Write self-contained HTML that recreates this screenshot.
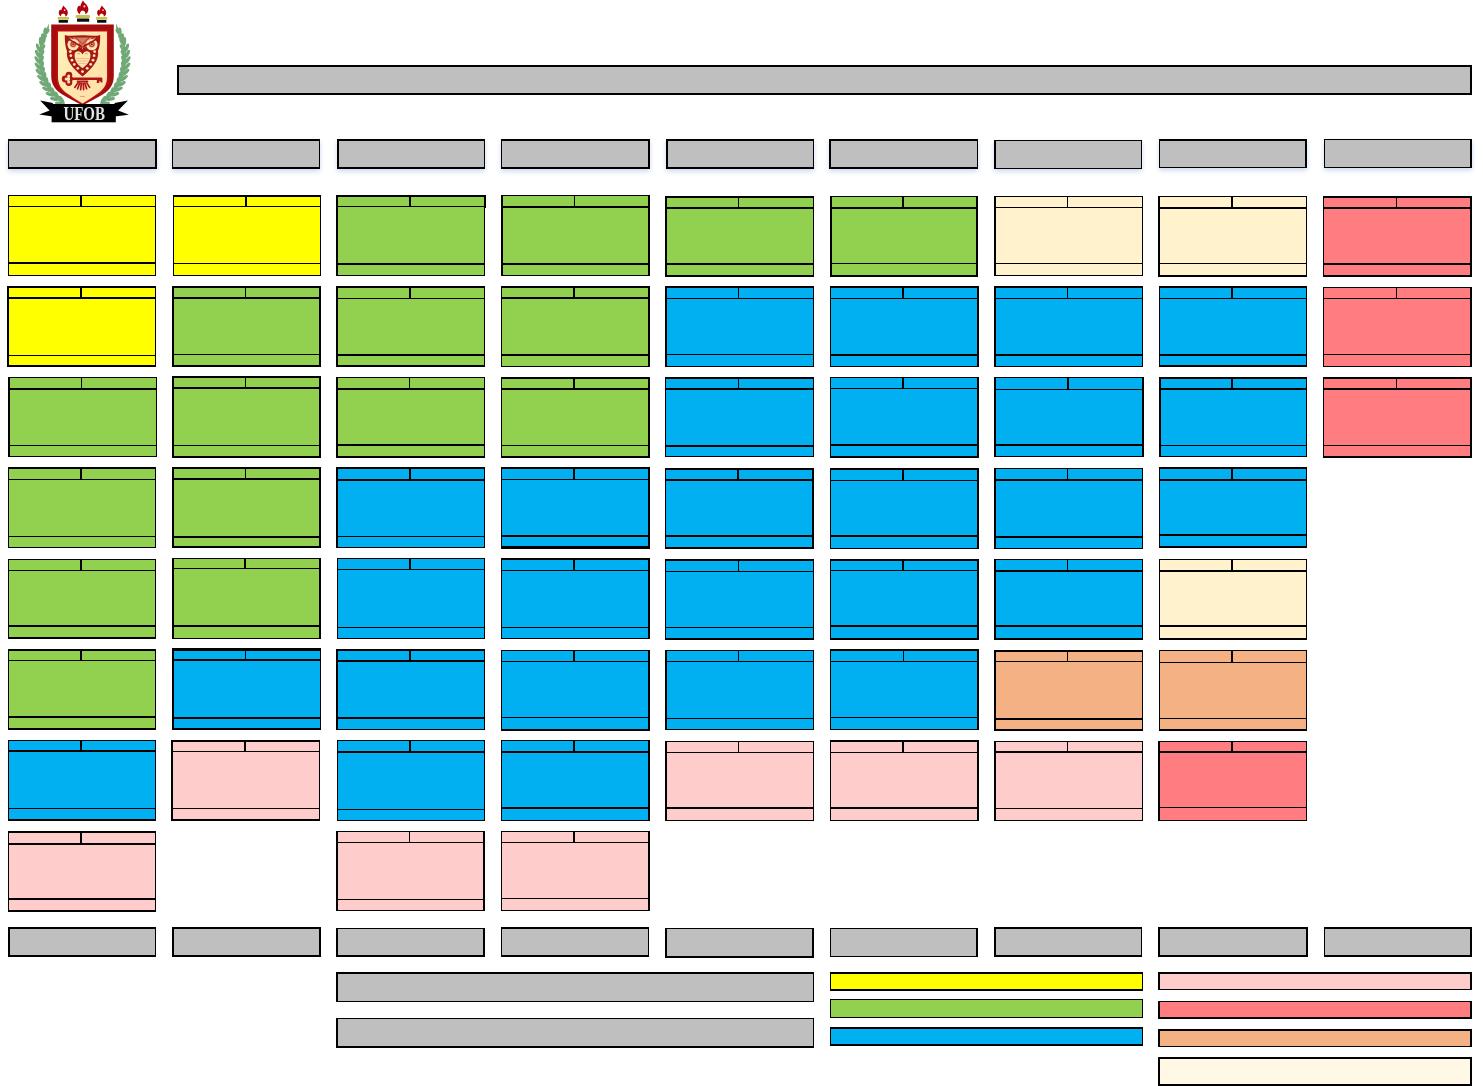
<!DOCTYPE html>
<html lang="pt-BR">
<head>
<meta charset="utf-8">
<title>UFOB - Fluxograma</title>
<style>
html,body{margin:0;padding:0;background:#fff;}
body{width:1483px;height:1086px;overflow:hidden;position:relative;font-family:"Liberation Serif",serif;}
svg{position:absolute;left:0;top:0;display:block;}
</style>
</head>
<body>
<svg width="1483" height="1086" viewBox="0 0 1483 1086">
<defs>
<linearGradient id="cg" x1="0" y1="0" x2="1" y2="1"><stop offset="0" stop-color="#fff3bc"/><stop offset="0.5" stop-color="#ffe7ae"/><stop offset="1" stop-color="#ffdda6"/></linearGradient>
<filter id="lb" x="-5%" y="-5%" width="110%" height="110%"><feGaussianBlur stdDeviation="0.55"/></filter>
<filter id="sh" x="-10%" y="-40%" width="120%" height="200%"><feGaussianBlur stdDeviation="2.6"/></filter>
</defs>
<g id="shadows" filter="url(#sh)" opacity="0.4" transform="translate(0 2.5)" fill="#7fa6d9">
<rect x="8" y="139" width="149" height="30" />
<rect x="172" y="139" width="148" height="30" />
<rect x="337" y="139" width="148" height="30" />
<rect x="501" y="139" width="149" height="30" />
<rect x="666" y="139" width="148" height="30" />
<rect x="829" y="139" width="149" height="30" />
<rect x="994" y="140" width="148" height="29" />
<rect x="1159" y="139" width="148" height="29" />
<rect x="1324" y="139" width="148" height="29" />
</g>
<g id="shapes" shape-rendering="crispEdges">
<g class="bar title"><rect x="177" y="65" width="1295" height="30" fill="#000"/><rect x="179" y="67" width="1291" height="26" fill="#bfbfbf"/></g>
<g class="bar h0"><rect x="8" y="139" width="149" height="30" fill="#000"/><rect x="9" y="141" width="146" height="26" fill="#bfbfbf"/></g>
<g class="bar h1"><rect x="172" y="139" width="148" height="30" fill="#000"/><rect x="173" y="141" width="146" height="26" fill="#bfbfbf"/></g>
<g class="bar h2"><rect x="337" y="139" width="148" height="30" fill="#000"/><rect x="339" y="141" width="145" height="26" fill="#bfbfbf"/></g>
<g class="bar h3"><rect x="501" y="139" width="149" height="30" fill="#000"/><rect x="502" y="141" width="146" height="26" fill="#bfbfbf"/></g>
<g class="bar h4"><rect x="666" y="139" width="148" height="30" fill="#000"/><rect x="668" y="141" width="145" height="26" fill="#bfbfbf"/></g>
<g class="bar h5"><rect x="829" y="139" width="149" height="30" fill="#000"/><rect x="831" y="141" width="146" height="26" fill="#bfbfbf"/></g>
<g class="bar h6"><rect x="994" y="140" width="148" height="29" fill="#000"/><rect x="996" y="141" width="145" height="27" fill="#bfbfbf"/></g>
<g class="bar h7"><rect x="1159" y="139" width="148" height="29" fill="#000"/><rect x="1160" y="141" width="145" height="26" fill="#bfbfbf"/></g>
<g class="bar h8"><rect x="1324" y="139" width="148" height="29" fill="#000"/><rect x="1325" y="140" width="145" height="27" fill="#bfbfbf"/></g>
<g class="bar f0"><rect x="8" y="927" width="148" height="30" fill="#000"/><rect x="10" y="929" width="145" height="26" fill="#bfbfbf"/></g>
<g class="bar f1"><rect x="172" y="927" width="149" height="30" fill="#000"/><rect x="174" y="929" width="145" height="26" fill="#bfbfbf"/></g>
<g class="bar f2"><rect x="336" y="928" width="149" height="29" fill="#000"/><rect x="338" y="929" width="145" height="26" fill="#bfbfbf"/></g>
<g class="bar f3"><rect x="501" y="927" width="148" height="30" fill="#000"/><rect x="502" y="929" width="146" height="26" fill="#bfbfbf"/></g>
<g class="bar f4"><rect x="665" y="928" width="149" height="30" fill="#000"/><rect x="667" y="929" width="145" height="27" fill="#bfbfbf"/></g>
<g class="bar f5"><rect x="830" y="928" width="148" height="29" fill="#000"/><rect x="831" y="929" width="145" height="27" fill="#bfbfbf"/></g>
<g class="bar f6"><rect x="994" y="927" width="148" height="30" fill="#000"/><rect x="996" y="929" width="145" height="26" fill="#bfbfbf"/></g>
<g class="bar f7"><rect x="1158" y="927" width="150" height="30" fill="#000"/><rect x="1160" y="929" width="146" height="26" fill="#bfbfbf"/></g>
<g class="bar f8"><rect x="1324" y="927" width="148" height="30" fill="#000"/><rect x="1325" y="929" width="145" height="26" fill="#bfbfbf"/></g>
<g class="bar w1"><rect x="336" y="972" width="478" height="30" fill="#000"/><rect x="338" y="974" width="475" height="27" fill="#bfbfbf"/></g>
<g class="bar w2"><rect x="336" y="1018" width="478" height="30" fill="#000"/><rect x="338" y="1019" width="475" height="27" fill="#bfbfbf"/></g>
<g class="bar ly"><rect x="830" y="972" width="313" height="19" fill="#000"/><rect x="831" y="974" width="311" height="15" fill="#ffff00"/></g>
<g class="bar lg"><rect x="830" y="999" width="313" height="19" fill="#000"/><rect x="831" y="1000" width="311" height="17" fill="#92d050"/></g>
<g class="bar lb"><rect x="830" y="1027" width="313" height="19" fill="#000"/><rect x="831" y="1029" width="311" height="15" fill="#00b0f0"/></g>
<g class="bar lp"><rect x="1158" y="972" width="314" height="18" fill="#000"/><rect x="1160" y="974" width="310" height="15" fill="#ffcccc"/></g>
<g class="bar lr"><rect x="1158" y="1001" width="314" height="18" fill="#000"/><rect x="1160" y="1002" width="310" height="15" fill="#ff7c80"/></g>
<g class="bar lo"><rect x="1158" y="1029" width="314" height="18" fill="#000"/><rect x="1160" y="1031" width="310" height="15" fill="#f4b183"/></g>
<g class="bar lc"><rect x="1158" y="1057" width="314" height="29" fill="#000"/><rect x="1160" y="1059" width="310" height="25" fill="#fff8e5"/></g>
<g class="box r0 c0"><rect x="8" y="195" width="148" height="81" fill="#000"/><rect x="9" y="196" width="146" height="79" fill="#ffff00"/><rect x="8" y="206" width="148" height="1" fill="#000"/><rect x="8" y="262" width="148" height="2" fill="#000"/><rect x="80" y="195" width="2" height="11" fill="#000"/></g>
<g class="box r0 c1"><rect x="173" y="195" width="148" height="81" fill="#000"/><rect x="174" y="197" width="146" height="78" fill="#ffff00"/><rect x="173" y="206" width="148" height="1" fill="#000"/><rect x="173" y="263" width="148" height="1" fill="#000"/><rect x="245" y="195" width="2" height="11" fill="#000"/></g>
<g class="box r0 c2"><rect x="336" y="195" width="149" height="81" fill="#000"/><rect x="338" y="197" width="146" height="78" fill="#92d050"/><rect x="336" y="206" width="149" height="1" fill="#000"/><rect x="336" y="263" width="149" height="2" fill="#000"/><rect x="409" y="195" width="2" height="11" fill="#000"/></g>
<g class="box r0 c3"><rect x="501" y="195" width="149" height="81" fill="#000"/><rect x="503" y="196" width="145" height="79" fill="#92d050"/><rect x="501" y="206" width="149" height="2" fill="#000"/><rect x="501" y="263" width="149" height="2" fill="#000"/><rect x="574" y="195" width="1" height="11" fill="#000"/></g>
<g class="box r0 c4"><rect x="665" y="196" width="149" height="81" fill="#000"/><rect x="667" y="198" width="146" height="77" fill="#92d050"/><rect x="665" y="207" width="149" height="2" fill="#000"/><rect x="665" y="263" width="149" height="2" fill="#000"/><rect x="738" y="196" width="1" height="11" fill="#000"/></g>
<g class="box r0 c5"><rect x="830" y="196" width="148" height="81" fill="#000"/><rect x="832" y="197" width="144" height="78" fill="#92d050"/><rect x="830" y="207" width="148" height="2" fill="#000"/><rect x="830" y="263" width="148" height="1" fill="#000"/><rect x="902" y="196" width="2" height="11" fill="#000"/></g>
<g class="box r0 c6"><rect x="994" y="196" width="149" height="80" fill="#000"/><rect x="996" y="197" width="146" height="78" fill="#fff2cc"/><rect x="994" y="207" width="149" height="1" fill="#000"/><rect x="994" y="263" width="149" height="1" fill="#000"/><rect x="1067" y="196" width="1" height="11" fill="#000"/></g>
<g class="box r0 c7"><rect x="1158" y="196" width="149" height="81" fill="#000"/><rect x="1160" y="197" width="146" height="78" fill="#fff2cc"/><rect x="1158" y="207" width="149" height="2" fill="#000"/><rect x="1158" y="263" width="149" height="1" fill="#000"/><rect x="1231" y="196" width="2" height="11" fill="#000"/></g>
<g class="box r0 c8"><rect x="1323" y="196" width="149" height="81" fill="#000"/><rect x="1324" y="198" width="146" height="77" fill="#ff7c80"/><rect x="1323" y="207" width="149" height="2" fill="#000"/><rect x="1323" y="263" width="149" height="2" fill="#000"/><rect x="1396" y="196" width="1" height="11" fill="#000"/></g>
<g class="box r1 c0"><rect x="7" y="286" width="149" height="81" fill="#000"/><rect x="9" y="288" width="146" height="77" fill="#ffff00"/><rect x="7" y="297" width="149" height="2" fill="#000"/><rect x="7" y="355" width="149" height="1" fill="#000"/><rect x="80" y="286" width="2" height="11" fill="#000"/></g>
<g class="box r1 c1"><rect x="172" y="286" width="149" height="81" fill="#000"/><rect x="174" y="288" width="145" height="77" fill="#92d050"/><rect x="172" y="297" width="149" height="2" fill="#000"/><rect x="172" y="354" width="149" height="1" fill="#000"/><rect x="245" y="286" width="1" height="11" fill="#000"/></g>
<g class="box r1 c2"><rect x="336" y="286" width="149" height="81" fill="#000"/><rect x="338" y="288" width="146" height="77" fill="#92d050"/><rect x="336" y="298" width="149" height="1" fill="#000"/><rect x="336" y="354" width="149" height="2" fill="#000"/><rect x="409" y="286" width="2" height="12" fill="#000"/></g>
<g class="box r1 c3"><rect x="501" y="286" width="149" height="81" fill="#000"/><rect x="502" y="288" width="146" height="78" fill="#92d050"/><rect x="501" y="297" width="149" height="2" fill="#000"/><rect x="501" y="354" width="149" height="2" fill="#000"/><rect x="573" y="286" width="2" height="11" fill="#000"/></g>
<g class="box r1 c4"><rect x="665" y="286" width="149" height="81" fill="#000"/><rect x="667" y="288" width="146" height="78" fill="#00b0f0"/><rect x="665" y="298" width="149" height="1" fill="#000"/><rect x="665" y="354" width="149" height="1" fill="#000"/><rect x="738" y="286" width="1" height="12" fill="#000"/></g>
<g class="box r1 c5"><rect x="830" y="286" width="149" height="81" fill="#000"/><rect x="831" y="288" width="146" height="78" fill="#00b0f0"/><rect x="830" y="298" width="149" height="1" fill="#000"/><rect x="830" y="354" width="149" height="2" fill="#000"/><rect x="902" y="286" width="2" height="12" fill="#000"/></g>
<g class="box r1 c6"><rect x="994" y="286" width="149" height="81" fill="#000"/><rect x="996" y="288" width="146" height="78" fill="#00b0f0"/><rect x="994" y="298" width="149" height="1" fill="#000"/><rect x="994" y="354" width="149" height="2" fill="#000"/><rect x="1067" y="286" width="1" height="12" fill="#000"/></g>
<g class="box r1 c7"><rect x="1159" y="286" width="148" height="81" fill="#000"/><rect x="1160" y="288" width="146" height="77" fill="#00b0f0"/><rect x="1159" y="298" width="148" height="1" fill="#000"/><rect x="1159" y="354" width="148" height="2" fill="#000"/><rect x="1231" y="286" width="2" height="12" fill="#000"/></g>
<g class="box r1 c8"><rect x="1323" y="287" width="149" height="80" fill="#000"/><rect x="1324" y="288" width="146" height="78" fill="#ff7c80"/><rect x="1323" y="298" width="149" height="1" fill="#000"/><rect x="1323" y="354" width="149" height="1" fill="#000"/><rect x="1396" y="287" width="1" height="11" fill="#000"/></g>
<g class="box r2 c0"><rect x="8" y="377" width="149" height="80" fill="#000"/><rect x="10" y="378" width="146" height="78" fill="#92d050"/><rect x="8" y="388" width="149" height="2" fill="#000"/><rect x="8" y="445" width="149" height="1" fill="#000"/><rect x="81" y="377" width="1" height="11" fill="#000"/></g>
<g class="box r2 c1"><rect x="172" y="376" width="149" height="82" fill="#000"/><rect x="174" y="378" width="145" height="78" fill="#92d050"/><rect x="172" y="387" width="149" height="2" fill="#000"/><rect x="172" y="445" width="149" height="1" fill="#000"/><rect x="245" y="376" width="1" height="11" fill="#000"/></g>
<g class="box r2 c2"><rect x="336" y="377" width="149" height="81" fill="#000"/><rect x="338" y="378" width="146" height="78" fill="#92d050"/><rect x="336" y="388" width="149" height="2" fill="#000"/><rect x="336" y="444" width="149" height="2" fill="#000"/><rect x="409" y="377" width="1" height="11" fill="#000"/></g>
<g class="box r2 c3"><rect x="501" y="377" width="149" height="81" fill="#000"/><rect x="502" y="379" width="146" height="77" fill="#92d050"/><rect x="501" y="388" width="149" height="2" fill="#000"/><rect x="501" y="445" width="149" height="1" fill="#000"/><rect x="573" y="377" width="2" height="11" fill="#000"/></g>
<g class="box r2 c4"><rect x="665" y="377" width="149" height="80" fill="#000"/><rect x="666" y="379" width="147" height="77" fill="#00b0f0"/><rect x="665" y="388" width="149" height="2" fill="#000"/><rect x="665" y="445" width="149" height="2" fill="#000"/><rect x="738" y="377" width="1" height="11" fill="#000"/></g>
<g class="box r2 c5"><rect x="830" y="377" width="149" height="81" fill="#000"/><rect x="831" y="378" width="146" height="78" fill="#00b0f0"/><rect x="830" y="388" width="149" height="1" fill="#000"/><rect x="830" y="444" width="149" height="2" fill="#000"/><rect x="902" y="377" width="2" height="11" fill="#000"/></g>
<g class="box r2 c6"><rect x="994" y="377" width="150" height="80" fill="#000"/><rect x="996" y="378" width="146" height="78" fill="#00b0f0"/><rect x="994" y="389" width="150" height="1" fill="#000"/><rect x="994" y="444" width="150" height="2" fill="#000"/><rect x="1067" y="377" width="2" height="12" fill="#000"/></g>
<g class="box r2 c7"><rect x="1159" y="377" width="148" height="80" fill="#000"/><rect x="1161" y="379" width="145" height="77" fill="#00b0f0"/><rect x="1159" y="388" width="148" height="2" fill="#000"/><rect x="1159" y="445" width="148" height="1" fill="#000"/><rect x="1231" y="377" width="2" height="11" fill="#000"/></g>
<g class="box r2 c8"><rect x="1323" y="377" width="149" height="81" fill="#000"/><rect x="1324" y="379" width="146" height="77" fill="#ff7c80"/><rect x="1323" y="388" width="149" height="2" fill="#000"/><rect x="1323" y="445" width="149" height="1" fill="#000"/><rect x="1396" y="377" width="1" height="11" fill="#000"/></g>
<g class="box r3 c0"><rect x="8" y="467" width="148" height="81" fill="#000"/><rect x="9" y="469" width="146" height="78" fill="#92d050"/><rect x="8" y="479" width="148" height="1" fill="#000"/><rect x="8" y="536" width="148" height="1" fill="#000"/><rect x="80" y="467" width="2" height="12" fill="#000"/></g>
<g class="box r3 c1"><rect x="172" y="467" width="149" height="81" fill="#000"/><rect x="174" y="469" width="145" height="77" fill="#92d050"/><rect x="172" y="478" width="149" height="2" fill="#000"/><rect x="172" y="536" width="149" height="2" fill="#000"/><rect x="245" y="467" width="1" height="11" fill="#000"/></g>
<g class="box r3 c2"><rect x="336" y="467" width="149" height="81" fill="#000"/><rect x="338" y="469" width="146" height="78" fill="#00b0f0"/><rect x="336" y="479" width="149" height="2" fill="#000"/><rect x="336" y="536" width="149" height="1" fill="#000"/><rect x="409" y="467" width="2" height="12" fill="#000"/></g>
<g class="box r3 c3"><rect x="501" y="467" width="149" height="82" fill="#000"/><rect x="502" y="469" width="146" height="77" fill="#00b0f0"/><rect x="501" y="479" width="149" height="1" fill="#000"/><rect x="501" y="535" width="149" height="2" fill="#000"/><rect x="573" y="467" width="2" height="12" fill="#000"/></g>
<g class="box r3 c4"><rect x="665" y="468" width="149" height="81" fill="#000"/><rect x="666" y="470" width="146" height="77" fill="#00b0f0"/><rect x="665" y="479" width="149" height="2" fill="#000"/><rect x="665" y="535" width="149" height="2" fill="#000"/><rect x="737" y="468" width="2" height="11" fill="#000"/></g>
<g class="box r3 c5"><rect x="830" y="468" width="149" height="81" fill="#000"/><rect x="831" y="470" width="146" height="78" fill="#00b0f0"/><rect x="830" y="480" width="149" height="1" fill="#000"/><rect x="830" y="535" width="149" height="2" fill="#000"/><rect x="902" y="468" width="2" height="12" fill="#000"/></g>
<g class="box r3 c6"><rect x="994" y="468" width="149" height="81" fill="#000"/><rect x="996" y="469" width="146" height="79" fill="#00b0f0"/><rect x="994" y="479" width="149" height="2" fill="#000"/><rect x="994" y="536" width="149" height="2" fill="#000"/><rect x="1067" y="468" width="1" height="11" fill="#000"/></g>
<g class="box r3 c7"><rect x="1159" y="467" width="148" height="81" fill="#000"/><rect x="1160" y="469" width="146" height="77" fill="#00b0f0"/><rect x="1159" y="479" width="148" height="2" fill="#000"/><rect x="1159" y="534" width="148" height="2" fill="#000"/><rect x="1231" y="467" width="2" height="12" fill="#000"/></g>
<g class="box r4 c0"><rect x="8" y="559" width="148" height="80" fill="#000"/><rect x="9" y="560" width="146" height="77" fill="#92d050"/><rect x="8" y="570" width="148" height="1" fill="#000"/><rect x="8" y="625" width="148" height="2" fill="#000"/><rect x="80" y="559" width="2" height="11" fill="#000"/></g>
<g class="box r4 c1"><rect x="172" y="558" width="149" height="81" fill="#000"/><rect x="174" y="559" width="145" height="79" fill="#92d050"/><rect x="172" y="568" width="149" height="1" fill="#000"/><rect x="172" y="625" width="149" height="2" fill="#000"/><rect x="244" y="558" width="2" height="10" fill="#000"/></g>
<g class="box r4 c2"><rect x="337" y="558" width="148" height="81" fill="#000"/><rect x="338" y="559" width="146" height="79" fill="#00b0f0"/><rect x="337" y="569" width="148" height="1" fill="#000"/><rect x="337" y="627" width="148" height="1" fill="#000"/><rect x="409" y="558" width="2" height="11" fill="#000"/></g>
<g class="box r4 c3"><rect x="501" y="558" width="149" height="81" fill="#000"/><rect x="502" y="560" width="146" height="78" fill="#00b0f0"/><rect x="501" y="570" width="149" height="1" fill="#000"/><rect x="501" y="627" width="149" height="1" fill="#000"/><rect x="573" y="558" width="2" height="12" fill="#000"/></g>
<g class="box r4 c4"><rect x="665" y="559" width="149" height="81" fill="#000"/><rect x="666" y="561" width="147" height="77" fill="#00b0f0"/><rect x="665" y="571" width="149" height="1" fill="#000"/><rect x="665" y="627" width="149" height="1" fill="#000"/><rect x="738" y="559" width="1" height="12" fill="#000"/></g>
<g class="box r4 c5"><rect x="830" y="559" width="149" height="81" fill="#000"/><rect x="831" y="561" width="146" height="77" fill="#00b0f0"/><rect x="830" y="570" width="149" height="1" fill="#000"/><rect x="830" y="625" width="149" height="2" fill="#000"/><rect x="902" y="559" width="2" height="11" fill="#000"/></g>
<g class="box r4 c6"><rect x="994" y="559" width="149" height="81" fill="#000"/><rect x="996" y="560" width="146" height="78" fill="#00b0f0"/><rect x="994" y="570" width="149" height="2" fill="#000"/><rect x="994" y="625" width="149" height="2" fill="#000"/><rect x="1067" y="559" width="1" height="11" fill="#000"/></g>
<g class="box r4 c7"><rect x="1159" y="559" width="148" height="81" fill="#000"/><rect x="1160" y="560" width="146" height="78" fill="#fff2cc"/><rect x="1159" y="570" width="148" height="2" fill="#000"/><rect x="1159" y="625" width="148" height="2" fill="#000"/><rect x="1231" y="559" width="2" height="11" fill="#000"/></g>
<g class="box r5 c0"><rect x="8" y="649" width="148" height="81" fill="#000"/><rect x="9" y="651" width="146" height="77" fill="#92d050"/><rect x="8" y="660" width="148" height="1" fill="#000"/><rect x="8" y="716" width="148" height="2" fill="#000"/><rect x="80" y="649" width="2" height="11" fill="#000"/></g>
<g class="box r5 c1"><rect x="172" y="648" width="149" height="82" fill="#000"/><rect x="174" y="651" width="146" height="77" fill="#00b0f0"/><rect x="172" y="659" width="149" height="2" fill="#000"/><rect x="172" y="717" width="149" height="2" fill="#000"/><rect x="245" y="648" width="1" height="11" fill="#000"/></g>
<g class="box r5 c2"><rect x="336" y="649" width="149" height="81" fill="#000"/><rect x="338" y="651" width="146" height="78" fill="#00b0f0"/><rect x="336" y="660" width="149" height="2" fill="#000"/><rect x="336" y="717" width="149" height="2" fill="#000"/><rect x="409" y="649" width="2" height="11" fill="#000"/></g>
<g class="box r5 c3"><rect x="501" y="650" width="149" height="81" fill="#000"/><rect x="502" y="651" width="146" height="78" fill="#00b0f0"/><rect x="501" y="661" width="149" height="1" fill="#000"/><rect x="501" y="717" width="149" height="1" fill="#000"/><rect x="573" y="650" width="2" height="11" fill="#000"/></g>
<g class="box r5 c4"><rect x="665" y="650" width="149" height="80" fill="#000"/><rect x="667" y="651" width="146" height="78" fill="#00b0f0"/><rect x="665" y="661" width="149" height="1" fill="#000"/><rect x="665" y="718" width="149" height="1" fill="#000"/><rect x="738" y="650" width="1" height="11" fill="#000"/></g>
<g class="box r5 c5"><rect x="830" y="649" width="149" height="81" fill="#000"/><rect x="831" y="651" width="146" height="78" fill="#00b0f0"/><rect x="830" y="661" width="149" height="1" fill="#000"/><rect x="830" y="717" width="149" height="1" fill="#000"/><rect x="903" y="649" width="1" height="12" fill="#000"/></g>
<g class="box r5 c6"><rect x="994" y="650" width="149" height="81" fill="#000"/><rect x="996" y="652" width="146" height="77" fill="#f4b183"/><rect x="994" y="661" width="149" height="1" fill="#000"/><rect x="994" y="718" width="149" height="2" fill="#000"/><rect x="1067" y="650" width="1" height="11" fill="#000"/></g>
<g class="box r5 c7"><rect x="1159" y="650" width="148" height="81" fill="#000"/><rect x="1160" y="651" width="146" height="78" fill="#f4b183"/><rect x="1159" y="662" width="148" height="1" fill="#000"/><rect x="1159" y="718" width="148" height="1" fill="#000"/><rect x="1231" y="650" width="2" height="12" fill="#000"/></g>
<g class="box r6 c0"><rect x="8" y="740" width="148" height="81" fill="#000"/><rect x="9" y="741" width="146" height="78" fill="#00b0f0"/><rect x="8" y="750" width="148" height="2" fill="#000"/><rect x="8" y="808" width="148" height="1" fill="#000"/><rect x="80" y="740" width="2" height="10" fill="#000"/></g>
<g class="box r6 c1"><rect x="171" y="740" width="149" height="81" fill="#000"/><rect x="173" y="742" width="146" height="77" fill="#ffcccc"/><rect x="171" y="751" width="149" height="1" fill="#000"/><rect x="171" y="808" width="149" height="1" fill="#000"/><rect x="244" y="740" width="2" height="11" fill="#000"/></g>
<g class="box r6 c2"><rect x="337" y="740" width="148" height="81" fill="#000"/><rect x="338" y="741" width="146" height="79" fill="#00b0f0"/><rect x="337" y="751" width="148" height="2" fill="#000"/><rect x="337" y="809" width="148" height="1" fill="#000"/><rect x="409" y="740" width="2" height="11" fill="#000"/></g>
<g class="box r6 c3"><rect x="501" y="740" width="149" height="81" fill="#000"/><rect x="502" y="741" width="146" height="79" fill="#00b0f0"/><rect x="501" y="751" width="149" height="2" fill="#000"/><rect x="501" y="807" width="149" height="2" fill="#000"/><rect x="573" y="740" width="2" height="11" fill="#000"/></g>
<g class="box r6 c4"><rect x="665" y="741" width="149" height="80" fill="#000"/><rect x="667" y="742" width="146" height="78" fill="#ffcccc"/><rect x="665" y="752" width="149" height="1" fill="#000"/><rect x="665" y="807" width="149" height="2" fill="#000"/><rect x="738" y="741" width="1" height="11" fill="#000"/></g>
<g class="box r6 c5"><rect x="830" y="740" width="149" height="81" fill="#000"/><rect x="831" y="742" width="146" height="78" fill="#ffcccc"/><rect x="830" y="752" width="149" height="1" fill="#000"/><rect x="830" y="807" width="149" height="2" fill="#000"/><rect x="902" y="740" width="2" height="12" fill="#000"/></g>
<g class="box r6 c6"><rect x="994" y="741" width="149" height="80" fill="#000"/><rect x="996" y="742" width="146" height="78" fill="#ffcccc"/><rect x="994" y="751" width="149" height="2" fill="#000"/><rect x="994" y="808" width="149" height="1" fill="#000"/><rect x="1067" y="741" width="1" height="10" fill="#000"/></g>
<g class="box r6 c7"><rect x="1158" y="741" width="149" height="80" fill="#000"/><rect x="1160" y="742" width="146" height="78" fill="#ff7c80"/><rect x="1158" y="751" width="149" height="2" fill="#000"/><rect x="1158" y="807" width="149" height="1" fill="#000"/><rect x="1231" y="741" width="2" height="10" fill="#000"/></g>
<g class="box r7 c0"><rect x="8" y="831" width="148" height="81" fill="#000"/><rect x="9" y="833" width="146" height="77" fill="#ffcccc"/><rect x="8" y="843" width="148" height="2" fill="#000"/><rect x="8" y="898" width="148" height="2" fill="#000"/><rect x="80" y="831" width="2" height="12" fill="#000"/></g>
<g class="box r7 c2"><rect x="336" y="831" width="149" height="80" fill="#000"/><rect x="338" y="832" width="145" height="78" fill="#ffcccc"/><rect x="336" y="842" width="149" height="1" fill="#000"/><rect x="336" y="899" width="149" height="1" fill="#000"/><rect x="409" y="831" width="1" height="11" fill="#000"/></g>
<g class="box r7 c3"><rect x="501" y="831" width="149" height="80" fill="#000"/><rect x="502" y="832" width="146" height="78" fill="#ffcccc"/><rect x="501" y="842" width="149" height="1" fill="#000"/><rect x="501" y="898" width="149" height="1" fill="#000"/><rect x="573" y="831" width="2" height="11" fill="#000"/></g>
<g class="stub"><rect x="485" y="195" width="1" height="13" fill="#000"/></g>
</g>
<g id="logo" filter="url(#lb)">
<g class="laurel"><path d="M64.0 103.5 L58.8 99.9 L54.3 95.8 L50.4 91.3 L47.0 86.3 L44.3 81.1 L42.2 75.5 L40.7 69.8 L39.9 63.9 L39.6 58.0 L39.9 52.0 L40.9 46.0 L42.4 40.2 L44.6 34.5 L47.4 29.0" fill="none" stroke="#70a976" stroke-width="1.6" stroke-linecap="round"/>
<ellipse cx="59.5" cy="103.2" rx="4.5" ry="1.75" transform="rotate(-176 59.5 103.2)" fill="#70a976"/>
<ellipse cx="61.6" cy="99.7" rx="4.5" ry="1.75" transform="rotate(-122 61.6 99.7)" fill="#70a976"/>
<ellipse cx="54.4" cy="99.0" rx="4.5" ry="1.75" transform="rotate(-169 54.4 99.0)" fill="#70a976"/>
<ellipse cx="57.0" cy="95.8" rx="4.5" ry="1.75" transform="rotate(-115 57.0 95.8)" fill="#70a976"/>
<ellipse cx="50.0" cy="94.4" rx="4.5" ry="1.75" transform="rotate(-161 50.0 94.4)" fill="#70a976"/>
<ellipse cx="53.0" cy="91.5" rx="4.5" ry="1.75" transform="rotate(-107 53.0 91.5)" fill="#70a976"/>
<ellipse cx="46.3" cy="89.3" rx="4.5" ry="1.75" transform="rotate(-154 46.3 89.3)" fill="#70a976"/>
<ellipse cx="49.6" cy="86.8" rx="4.5" ry="1.75" transform="rotate(-100 49.6 86.8)" fill="#70a976"/>
<ellipse cx="43.2" cy="83.9" rx="4.5" ry="1.75" transform="rotate(-148 43.2 83.9)" fill="#70a976"/>
<ellipse cx="46.8" cy="81.8" rx="4.5" ry="1.75" transform="rotate(-94 46.8 81.8)" fill="#70a976"/>
<ellipse cx="40.8" cy="78.2" rx="4.5" ry="1.75" transform="rotate(-141 40.8 78.2)" fill="#70a976"/>
<ellipse cx="44.6" cy="76.6" rx="4.5" ry="1.75" transform="rotate(-87 44.6 76.6)" fill="#70a976"/>
<ellipse cx="39.1" cy="72.3" rx="4.5" ry="1.75" transform="rotate(-135 39.1 72.3)" fill="#70a976"/>
<ellipse cx="43.0" cy="71.1" rx="4.5" ry="1.75" transform="rotate(-81 43.0 71.1)" fill="#70a976"/>
<ellipse cx="37.9" cy="66.3" rx="4.5" ry="1.75" transform="rotate(-129 37.9 66.3)" fill="#70a976"/>
<ellipse cx="41.9" cy="65.5" rx="4.5" ry="1.75" transform="rotate(-75 41.9 65.5)" fill="#70a976"/>
<ellipse cx="37.4" cy="60.1" rx="4.5" ry="1.75" transform="rotate(-123 37.4 60.1)" fill="#70a976"/>
<ellipse cx="41.5" cy="59.7" rx="4.5" ry="1.75" transform="rotate(-69 41.5 59.7)" fill="#70a976"/>
<ellipse cx="37.6" cy="54.0" rx="4.5" ry="1.75" transform="rotate(-117 37.6 54.0)" fill="#70a976"/>
<ellipse cx="41.7" cy="54.0" rx="4.5" ry="1.75" transform="rotate(-63 41.7 54.0)" fill="#70a976"/>
<ellipse cx="38.3" cy="47.8" rx="4.5" ry="1.75" transform="rotate(-111 38.3 47.8)" fill="#70a976"/>
<ellipse cx="42.4" cy="48.2" rx="4.5" ry="1.75" transform="rotate(-57 42.4 48.2)" fill="#70a976"/>
<ellipse cx="40.6" cy="41.6" rx="4.5" ry="1.75" transform="rotate(-94 40.6 41.6)" fill="#70a976"/>
<ellipse cx="43.0" cy="42.1" rx="4.5" ry="1.75" transform="rotate(-62 43.0 42.1)" fill="#70a976"/>
<ellipse cx="42.6" cy="36.7" rx="3.5" ry="1.75" transform="rotate(-88 42.6 36.7)" fill="#70a976"/>
<ellipse cx="44.4" cy="37.3" rx="3.5" ry="1.75" transform="rotate(-56 44.4 37.3)" fill="#70a976"/>
<ellipse cx="45.1" cy="31.0" rx="3.5" ry="1.75" transform="rotate(-82 45.1 31.0)" fill="#70a976"/>
<ellipse cx="46.9" cy="31.8" rx="3.5" ry="1.75" transform="rotate(-50 46.9 31.8)" fill="#70a976"/>
<path d="M45.8 30.0 L49.0 23.6 L48.8 31.0 Z" fill="#70a976"/></g>
<g class="laurel"><path d="M101.0 103.5 L106.2 99.9 L110.7 95.8 L114.6 91.3 L118.0 86.3 L120.7 81.1 L122.8 75.5 L124.3 69.8 L125.1 63.9 L125.4 58.0 L125.1 52.0 L124.1 46.0 L122.6 40.2 L120.4 34.5 L117.6 29.0" fill="none" stroke="#70a976" stroke-width="1.6" stroke-linecap="round"/>
<ellipse cx="105.5" cy="103.2" rx="4.5" ry="1.75" transform="rotate(356 105.5 103.2)" fill="#70a976"/>
<ellipse cx="103.4" cy="99.7" rx="4.5" ry="1.75" transform="rotate(302 103.4 99.7)" fill="#70a976"/>
<ellipse cx="110.6" cy="99.0" rx="4.5" ry="1.75" transform="rotate(349 110.6 99.0)" fill="#70a976"/>
<ellipse cx="108.0" cy="95.8" rx="4.5" ry="1.75" transform="rotate(295 108.0 95.8)" fill="#70a976"/>
<ellipse cx="115.0" cy="94.4" rx="4.5" ry="1.75" transform="rotate(341 115.0 94.4)" fill="#70a976"/>
<ellipse cx="112.0" cy="91.5" rx="4.5" ry="1.75" transform="rotate(287 112.0 91.5)" fill="#70a976"/>
<ellipse cx="118.7" cy="89.3" rx="4.5" ry="1.75" transform="rotate(334 118.7 89.3)" fill="#70a976"/>
<ellipse cx="115.4" cy="86.8" rx="4.5" ry="1.75" transform="rotate(280 115.4 86.8)" fill="#70a976"/>
<ellipse cx="121.8" cy="83.9" rx="4.5" ry="1.75" transform="rotate(328 121.8 83.9)" fill="#70a976"/>
<ellipse cx="118.2" cy="81.8" rx="4.5" ry="1.75" transform="rotate(274 118.2 81.8)" fill="#70a976"/>
<ellipse cx="124.2" cy="78.2" rx="4.5" ry="1.75" transform="rotate(321 124.2 78.2)" fill="#70a976"/>
<ellipse cx="120.4" cy="76.6" rx="4.5" ry="1.75" transform="rotate(267 120.4 76.6)" fill="#70a976"/>
<ellipse cx="125.9" cy="72.3" rx="4.5" ry="1.75" transform="rotate(315 125.9 72.3)" fill="#70a976"/>
<ellipse cx="122.0" cy="71.1" rx="4.5" ry="1.75" transform="rotate(261 122.0 71.1)" fill="#70a976"/>
<ellipse cx="127.1" cy="66.3" rx="4.5" ry="1.75" transform="rotate(309 127.1 66.3)" fill="#70a976"/>
<ellipse cx="123.1" cy="65.5" rx="4.5" ry="1.75" transform="rotate(255 123.1 65.5)" fill="#70a976"/>
<ellipse cx="127.6" cy="60.1" rx="4.5" ry="1.75" transform="rotate(303 127.6 60.1)" fill="#70a976"/>
<ellipse cx="123.5" cy="59.7" rx="4.5" ry="1.75" transform="rotate(249 123.5 59.7)" fill="#70a976"/>
<ellipse cx="127.4" cy="54.0" rx="4.5" ry="1.75" transform="rotate(297 127.4 54.0)" fill="#70a976"/>
<ellipse cx="123.3" cy="54.0" rx="4.5" ry="1.75" transform="rotate(243 123.3 54.0)" fill="#70a976"/>
<ellipse cx="126.7" cy="47.8" rx="4.5" ry="1.75" transform="rotate(291 126.7 47.8)" fill="#70a976"/>
<ellipse cx="122.6" cy="48.2" rx="4.5" ry="1.75" transform="rotate(237 122.6 48.2)" fill="#70a976"/>
<ellipse cx="124.4" cy="41.6" rx="4.5" ry="1.75" transform="rotate(274 124.4 41.6)" fill="#70a976"/>
<ellipse cx="122.0" cy="42.1" rx="4.5" ry="1.75" transform="rotate(242 122.0 42.1)" fill="#70a976"/>
<ellipse cx="122.4" cy="36.7" rx="3.5" ry="1.75" transform="rotate(268 122.4 36.7)" fill="#70a976"/>
<ellipse cx="120.6" cy="37.3" rx="3.5" ry="1.75" transform="rotate(236 120.6 37.3)" fill="#70a976"/>
<ellipse cx="119.9" cy="31.0" rx="3.5" ry="1.75" transform="rotate(262 119.9 31.0)" fill="#70a976"/>
<ellipse cx="118.1" cy="31.8" rx="3.5" ry="1.75" transform="rotate(230 118.1 31.8)" fill="#70a976"/>
<path d="M119.2 30.0 L116.0 23.6 L116.2 31.0 Z" fill="#70a976"/></g>
<path d="M63.4 5.4 C 64.5 7.4, 66.5 8.4, 67.3 10.4 C 68.5 13.0, 67.5 15.6, 65.3 16.6 C 65.8 15.0, 64.8 13.8, 63.2 13.5 C 61.6 13.8, 60.6 15.0, 61.2 16.6 C 59.0 15.6, 58.0 13.0, 59.2 10.8 C 59.8 9.5, 60.8 9.3, 61.2 10.6 C 61.5 8.4, 62.5 7.0, 63.4 5.4 Z" fill="#b20508"/><ellipse cx="64.6" cy="10.2" rx="0.80" ry="0.84" fill="#fff" opacity="0.85"/>
<path d="M82.9 0.5 C 84.2 3.0, 86.7 4.2, 87.7 6.7 C 89.2 9.9, 88.0 13.1, 85.2 14.3 C 85.9 12.4, 84.7 10.9, 82.7 10.4 C 80.7 10.9, 79.5 12.4, 80.2 14.3 C 77.5 13.1, 76.3 9.9, 77.8 7.1 C 78.5 5.6, 79.7 5.3, 80.2 6.8 C 80.6 4.2, 81.8 2.4, 82.9 0.5 Z" fill="#b20508"/><ellipse cx="84.4" cy="6.4" rx="0.99" ry="1.03" fill="#fff" opacity="0.85"/>
<path d="M101.8 5.4 C 102.9 7.4, 104.9 8.4, 105.7 10.4 C 106.9 13.0, 105.9 15.6, 103.7 16.6 C 104.2 15.0, 103.2 13.8, 101.6 13.5 C 100.0 13.8, 99.0 15.0, 99.6 16.6 C 97.4 15.6, 96.4 13.0, 97.6 10.8 C 98.2 9.5, 99.2 9.3, 99.6 10.6 C 99.9 8.4, 100.9 7.0, 101.8 5.4 Z" fill="#b20508"/><ellipse cx="103.0" cy="10.2" rx="0.80" ry="0.84" fill="#fff" opacity="0.85"/>
<rect x="57.7" y="17.1" width="11.4" height="2.7" rx="0.6" fill="#c6c354"/><rect x="58.6" y="20.1" width="9.4" height="2.6" rx="0.6" fill="#0d0d0d"/>
<rect x="75.7" y="14.9" width="14.3" height="3.0" rx="0.6" fill="#c6c354"/><rect x="77" y="18.6" width="12.2" height="3.2" rx="0.6" fill="#0d0d0d"/>
<rect x="95.9" y="17.1" width="11.4" height="2.7" rx="0.6" fill="#c6c354"/><rect x="97" y="20.1" width="9.4" height="2.6" rx="0.6" fill="#0d0d0d"/>
<path d="M51.2 24.6 H113.8 V76 C113.8 84, 110 90, 103 94.2 C 97 98, 90 101.2, 82.5 105.4 C 75 101.2, 68 98, 62 94.2 C 55 90, 51.2 84, 51.2 76 Z" fill="#a40d0d"/>
<path d="M56.6 30.2 H108.4 V77 C108.4 84.5, 105 89.5, 99.3 93.6 C 93.6 97.6, 88.4 100.6, 82.5 104.2 C 76.6 100.6, 71.4 97.6, 65.7 93.6 C 60 89.5, 56.6 84.5, 56.6 77 Z" fill="#c80f12"/>
<path d="M58 31.4 H107 V77 C107 84, 104 89, 98.5 93 C 93 97, 88 100, 82.5 103.4 C 77 100, 72 97, 66.5 93 C 61 89, 58 84, 58 77 Z" fill="url(#cg)"/>
<path d="M64.8 34.9 C 70 36.6, 76 35.2, 82.5 35.2 C 89 35.2, 95 36.6, 100.2 34.9 C 100.3 42, 99.6 47, 98 51 C 99.4 60, 92.5 68.5, 82.5 76.4 C 72.5 68.5, 65.6 60, 67 51 C 65.4 47, 64.7 42, 64.8 34.9 Z" fill="#a51616"/>
<path d="M68.5 37.6 H96.5 L82.5 49.4 Z" fill="#d87c60"/>
<path d="M71 37.2 L82.5 47 L94 37.2" fill="none" stroke="#a51616" stroke-width="0.9"/>
<path d="M75.5 37.2 L82.5 44 L89.5 37.2" fill="none" stroke="#a51616" stroke-width="0.8"/>
<circle cx="73.2" cy="44.6" r="5.7" fill="#ffe7ae"/>
<circle cx="73.2" cy="44.2" r="3.4" fill="#e39a78"/>
<circle cx="73.2" cy="44.2" r="2.3" fill="none" stroke="#a51616" stroke-width="0.8"/>
<circle cx="73.2" cy="44.2" r="0.9" fill="#a51616"/>
<circle cx="91.8" cy="44.6" r="5.7" fill="#ffe7ae"/>
<circle cx="91.8" cy="44.2" r="3.4" fill="#e39a78"/>
<circle cx="91.8" cy="44.2" r="2.3" fill="none" stroke="#a51616" stroke-width="0.8"/>
<circle cx="91.8" cy="44.2" r="0.9" fill="#a51616"/>
<path d="M66.3 37 L81.3 45.4 L82.5 51.5 L83.7 45.4 L98.7 37 L98.4 38.8 L84.6 47 L82.5 53 L80.4 47 L66.6 38.8 Z" fill="#a51616"/>
<path d="M74.6 54.5 C 75 50.5, 80.5 50, 82.5 54.4 C 84.5 50, 90 50.5, 90.4 54.5 C 90.8 61, 86.5 65.5, 82.5 68.2 C 78.5 65.5, 74.2 61, 74.6 54.5 Z" fill="#ffe7ae"/>
<g stroke="#e7a684" stroke-width="0.7"><line x1="76" y1="58.6" x2="89" y2="58.6"/><line x1="77" y1="61" x2="88" y2="61"/><line x1="78.6" y1="63.4" x2="86.4" y2="63.4"/></g>
<path d="M77.2 54.2 q1.4 -1.8 2.8 0 M85 54.2 q1.4 -1.8 2.8 0" fill="none" stroke="#d87c60" stroke-width="0.8"/>
<circle cx="70.3" cy="51.6" r="1.4" fill="#ffe7ae"/>
<circle cx="94.7" cy="51.6" r="1.4" fill="#ffe7ae"/>
<circle cx="70.9" cy="55.7" r="1.4" fill="#ffe7ae"/>
<circle cx="94.1" cy="55.7" r="1.4" fill="#ffe7ae"/>
<circle cx="72" cy="60.2" r="1.4" fill="#ffe7ae"/>
<circle cx="93.0" cy="60.2" r="1.4" fill="#ffe7ae"/>
<circle cx="74.3" cy="64.4" r="1.4" fill="#ffe7ae"/>
<circle cx="90.7" cy="64.4" r="1.4" fill="#ffe7ae"/>
<circle cx="77.8" cy="68.3" r="1.4" fill="#ffe7ae"/>
<circle cx="87.2" cy="68.3" r="1.4" fill="#ffe7ae"/>
<circle cx="82.5" cy="71.6" r="1.4" fill="#ffe7ae"/>
<g fill="#ad1419"><circle cx="68.9" cy="75.2" r="3.4"/><circle cx="65.2" cy="79" r="3.4"/><circle cx="68.9" cy="82.6" r="3.4"/><circle cx="69.6" cy="79" r="3.2"/>
<rect x="71" y="77.5" width="31.4" height="2.4" rx="0.9"/>
<path d="M96.8 79.4 H102.4 V82.4 H100.6 V81.2 H99.2 V83 H96.8 Z"/></g>
<g fill="#ffe7ae"><circle cx="68.7" cy="76" r="1.5"/><circle cx="66.2" cy="79" r="1.5"/><circle cx="68.7" cy="81.9" r="1.5"/><circle cx="68.3" cy="79" r="1.9"/></g>
<g stroke="#ad1419" stroke-width="1.7" stroke-linecap="round" fill="none"><path d="M77.4 81.4 H87.6" stroke-width="1.6"/><path d="M78.2 82.6 L74.8 87.4 M79.8 83 L77.6 88.8 M81.4 83 L80.6 89.6 M83.2 83 L83.6 89.6 M84.8 83 L86.6 88.8 M86.6 82.6 L89.6 87.4"/></g>
<rect x="80.2" y="95.9" width="4.6" height="0.9" fill="#e08f74"/>
<path d="M40.2 100.6 L52.8 103 L52.8 116.6 L39.2 114.6 L49.6 110.4 Z" fill="#060606"/>
<path d="M127.9 100.6 L114.6 103 L114.6 116.6 L128.9 114.8 L118.2 110.4 Z" fill="#060606"/>
<rect x="51.6" y="104" width="64.2" height="18.3" fill="#020202"/>
<text x="84.2" y="119.6" text-anchor="middle" font-family="'Liberation Serif',serif" font-weight="bold" font-size="15" fill="#e2e2e2" transform="translate(84.2 119.6) scale(1.0 1.32) translate(-84.2 -119.6)">UFOB</text>
</g>

</svg>
</body>
</html>
